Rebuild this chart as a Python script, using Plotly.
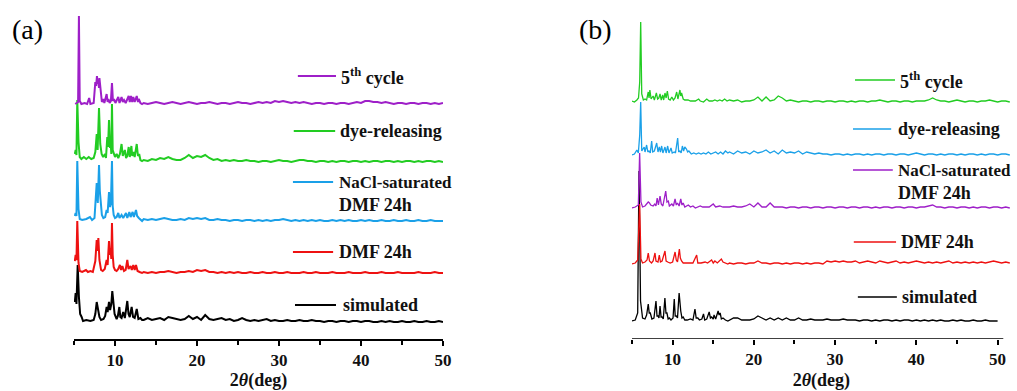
import plotly.graph_objects as go

# ---------------- Panel (a) data (2theta in deg, intensity in a.u.) ----------------
TAIL_X_A = [13.5, 14, 14.5, 15, 15.5, 16, 16.5, 17, 17.5, 18,
            18.5, 19, 19.5, 20, 20.5, 21, 21.5, 22, 22.5, 23,
            23.5, 24, 24.5, 25, 25.5, 26, 26.5, 27, 27.5, 28,
            28.5, 29, 29.5, 30, 30.5, 31, 31.5, 32, 32.5, 33,
            33.5, 34, 34.5, 35, 35.5, 36, 36.5, 37, 37.5, 38,
            38.5, 39, 39.5, 40, 40.5, 41, 41.5, 42, 42.5, 43,
            43.5, 44, 44.5, 45, 45.5, 46, 46.5, 47, 47.5, 48,
            48.5, 49, 49.5, 50]

A_CYCLE5_PEAKS = [(5.15, 0), (5.4, 1), (5.5, 2), (5.6, 88), (5.7, 3), (5.9, 0), (6.3, 1), (6.6, 0), (6.85, 6),
                  (7.0, 0), (7.4, 1), (7.6, 22), (7.7, 18), (7.8, 28), (7.9, 20), (7.95, 24), (8.05, 16),
                  (8.1, 26), (8.25, 14), (8.4, 2), (8.58, 5), (8.7, 1), (8.98, 10), (9.1, 2), (9.2, 5),
                  (9.35, 1), (9.5, 3), (9.63, 21), (9.75, 3), (9.88, 5), (10.05, 1), (10.4, 7), (10.55, 1),
                  (10.8, 7), (10.95, 2), (11.1, 4), (11.3, 1), (11.67, 8), (11.8, 2), (11.95, 8), (12.1, 2),
                  (12.23, 7), (12.4, 2), (12.65, 8), (12.8, 2), (12.9, 5), (13.1, 1), (13.3, 0)]
A_CYCLE5_TAIL = [1, 0, 1, 2, 1, 0, 1, 2, 1, 0,
                 1, 2, 1, 0, 1, 1, 2, 1, 0, 1,
                 1, 0, 1, 2, 1, 1, 0, 1, 2, 1,
                 2, 1, 3, 2, 3, 2, 1, 2, 1, 2,
                 1, 0, 1, 1, 0, 1, 1, 0, 1, 1,
                 0, 1, 2, 1, 3, 3, 2, 2, 1, 2,
                 1, 0, 1, 1, 0, 1, 1, 0, 1, 1,
                 0, 1, 0, 1]

A_DYE_PEAKS = [(5.1, 8), (5.2, 12), (5.3, 7), (5.4, 62), (5.55, 20), (5.7, 5), (5.9, 3), (6.2, 5), (6.5, 3),
               (6.8, 5), (7.1, 3), (7.4, 4), (7.6, 10), (7.77, 28), (7.88, 12), (8.05, 54), (8.2, 18),
               (8.37, 8), (8.55, 5), (8.78, 8), (8.9, 4), (9.06, 25), (9.15, 15), (9.27, 42), (9.38, 14),
               (9.47, 20), (9.55, 8), (9.63, 58), (9.72, 12), (9.8, 10), (10.0, 5), (10.2, 8), (10.4, 4),
               (10.6, 8), (10.8, 18), (10.95, 6), (11.2, 12), (11.35, 4), (11.5, 6), (11.67, 15), (11.8, 5),
               (12.0, 16), (12.1, 6), (12.25, 10), (12.4, 5), (12.65, 18), (12.8, 6), (12.95, 8), (13.1, 2),
               (13.3, 1)]
A_DYE_TAIL = [2, 1, 3, 2, 4, 3, 5, 3, 2, 2,
              4, 7, 4, 6, 5, 7, 4, 2, 3, 1,
              2, 1, 2, 1, 1, 2, 1, 1, 0, 1,
              1, 0, 1, 2, 1, 1, 0, 1, 2, 2,
              1, 1, 0, 1, 1, 0, 1, 0, 1, 1,
              0, 1, 1, 0, 1, 0, 1, 1, 0, 1,
              1, 0, 1, 0, 1, 1, 0, 1, 0, 1,
              1, 0, 1, 0]

A_NACL_PEAKS = [(5.1, 5), (5.2, 8), (5.3, 5), (5.4, 60), (5.55, 12), (5.7, 2), (6.0, 1), (6.5, 2), (6.95, 4),
                (7.2, 1), (7.5, 3), (7.65, 20), (7.77, 38), (7.9, 18), (8.05, 56), (8.15, 30), (8.25, 21),
                (8.4, 6), (8.58, 3), (8.8, 4), (8.98, 11), (9.1, 8), (9.27, 29), (9.38, 14), (9.5, 18),
                (9.63, 60), (9.72, 15), (9.84, 6), (10.0, 3), (10.2, 4), (10.4, 8), (10.55, 3), (10.8, 6),
                (11.0, 3), (11.34, 8), (11.5, 3), (11.75, 9), (11.9, 4), (12.15, 9), (12.3, 4), (12.56, 11),
                (12.7, 5), (12.9, 3), (13.1, 1), (13.3, 0)]
A_NACL_TAIL = [2, 1, 2, 1, 2, 3, 2, 1, 1, 2,
               1, 3, 2, 3, 2, 3, 1, 1, 2, 1,
               1, 0, 1, 1, 0, 1, 1, 0, 1, 0,
               1, 0, 1, 1, 2, 1, 0, 1, 0, 1,
               0, 1, 0, 1, 0, 0, 1, 0, 1, 0,
               1, 0, 0, 1, 0, 1, 0, 0, 1, 0,
               0, 1, 0, 0, 1, 0, 0, 1, 0, 0,
               1, 0, 0, 0]

A_DMF_PEAKS = [(5.1, 12), (5.2, 18), (5.3, 13), (5.4, 52), (5.55, 10), (5.7, 2), (6.0, 1), (6.46, 3), (6.7, 1),
               (7.0, 2), (7.3, 1), (7.6, 12), (7.77, 33), (7.87, 22), (7.97, 35), (8.1, 13), (8.3, 3),
               (8.5, 2), (8.75, 4), (8.98, 13), (9.1, 8), (9.27, 32), (9.37, 18), (9.45, 25), (9.55, 14),
               (9.63, 50), (9.72, 18), (9.84, 6), (10.0, 3), (10.2, 2), (10.4, 4), (10.6, 8), (10.75, 3),
               (10.9, 7), (11.1, 2), (11.3, 3), (11.5, 13), (11.65, 4), (11.9, 7), (12.05, 3), (12.23, 8),
               (12.4, 3), (12.56, 8), (12.75, 2), (13.0, 1), (13.3, 0)]
A_DMF_TAIL = [1, 0, 1, 0, 1, 1, 2, 1, 0, 1,
              1, 2, 1, 3, 2, 3, 1, 1, 0, 1,
              0, 1, 0, 1, 0, 0, 1, 0, 0, 1,
              0, 0, 1, 0, 0, 1, 0, 0, 0, 1,
              0, 0, 1, 0, 0, 0, 1, 0, 0, 0,
              1, 0, 0, 0, 1, 0, 0, 0, 1, 0,
              0, 0, 1, 0, 0, 0, 0, 1, 0, 0,
              0, 1, 0, 0]

A_SIM_PEAKS = [(5.1, 20), (5.2, 29), (5.3, 18), (5.45, 57), (5.6, 25), (5.75, 8), (5.93, 5), (6.1, 1), (6.5, 2),
               (7.0, 1), (7.4, 2), (7.6, 8), (7.77, 20), (7.87, 15), (7.97, 10), (8.1, 5), (8.3, 2), (8.6, 3),
               (8.8, 6), (8.98, 15), (9.1, 10), (9.27, 20), (9.4, 12), (9.55, 18), (9.67, 31), (9.8, 22),
               (9.95, 8), (10.2, 3), (10.35, 6), (10.53, 15), (10.65, 5), (10.8, 4), (11.0, 10), (11.2, 4),
               (11.5, 21), (11.65, 8), (11.8, 5), (12.03, 15), (12.2, 5), (12.4, 4), (12.65, 13), (12.85, 3),
               (13.1, 4), (13.3, 2)]
A_SIM_TAIL = [2, 4, 2, 3, 4, 2, 5, 4, 3, 2,
              3, 6, 3, 5, 2, 7, 3, 2, 3, 4,
              2, 3, 1, 2, 4, 2, 1, 2, 1, 2,
              3, 1, 2, 1, 1, 2, 1, 1, 2, 1,
              1, 2, 1, 1, 0, 1, 1, 0, 1, 1,
              0, 1, 1, 0, 1, 1, 0, 0, 1, 0,
              1, 0, 0, 1, 0, 0, 1, 0, 0, 1,
              0, 0, 1, 0]

# ---------------- Panel (b) data ----------------
TAIL_X_B = [17, 17.5, 18, 18.5, 19, 19.5, 20, 20.5, 21, 21.5,
            22, 22.5, 23, 23.5, 24, 24.5, 25, 25.5, 26, 26.5,
            27, 27.5, 28, 28.5, 29, 29.5, 30, 30.5, 31, 31.5,
            32, 32.5, 33, 33.5, 34, 34.5, 35, 35.5, 36, 36.5,
            37, 37.5, 38, 38.5, 39, 39.5, 40, 40.5, 41, 41.5,
            42, 42.5, 43, 43.5, 44, 44.5, 45, 45.5, 46, 46.5,
            47, 47.5, 48, 48.5, 49, 49.5, 50, 50.5, 51, 51.5]

B_CYCLE5_PEAKS = [(5.0, 1), (5.3, 0), (5.6, 2), (5.8, 4), (5.95, 20), (6.07, 80), (6.2, 8), (6.4, 2), (6.6, 3),
                  (6.8, 2), (7.0, 10), (7.1, 4), (7.2, 12), (7.35, 3), (7.6, 6), (7.75, 2), (8.0, 9), (8.15, 3),
                  (8.3, 4), (8.45, 8), (8.6, 2), (8.78, 7), (8.9, 2), (9.06, 9), (9.2, 4), (9.35, 11), (9.5, 3),
                  (9.7, 2), (9.9, 5), (10.1, 2), (10.3, 4), (10.5, 10), (10.65, 3), (10.9, 12), (11.0, 6),
                  (11.1, 9), (11.3, 3), (11.5, 2), (11.9, 2), (12.2, 1), (12.5, 1), (12.8, 1), (13.2, 3),
                  (13.4, 1), (13.8, 0), (14.2, 3), (14.5, 1), (14.9, 1), (15.2, 2), (15.5, 1), (15.8, 2),
                  (16.1, 1), (16.4, 3), (16.7, 1)]
B_CYCLE5_TAIL = [2, 1, 2, 0, 1, 1, 2, 5, 1, 5,
                 1, 2, 6, 4, 1, 2, 1, 0, 1, 1,
                 0, 1, 1, 0, 1, 1, 0, 1, 1, 0,
                 1, 0, 1, 1, 0, 1, 1, 2, 1, 0,
                 1, 1, 0, 1, 1, 0, 1, 1, 1, 2,
                 4, 2, 1, 1, 0, 1, 2, 1, 0, 1,
                 1, 0, 1, 1, 2, 1, 0, 1, 1, 0]

B_DYE_PEAKS = [(5.0, 0), (5.3, 1), (5.6, 5), (5.78, 2), (5.95, 20), (6.07, 53), (6.2, 4), (6.5, 8), (6.6, 3),
               (6.8, 10), (6.95, 3), (7.09, 4), (7.25, 2), (7.42, 14), (7.55, 3), (7.75, 4), (8.04, 12),
               (8.2, 3), (8.36, 8), (8.5, 3), (8.65, 9), (8.8, 2), (9.06, 8), (9.2, 2), (9.39, 9), (9.55, 2),
               (9.8, 7), (9.95, 2), (10.2, 3), (10.35, 2), (10.62, 17), (10.75, 3), (10.9, 4), (11.05, 2),
               (11.2, 9), (11.35, 4), (11.5, 8), (11.7, 6), (11.85, 3), (12.0, 4), (12.3, 1), (12.6, 2),
               (12.9, 1), (13.2, 2), (13.5, 1), (13.8, 2), (14.1, 1), (14.4, 3), (14.7, 1), (15.0, 2),
               (15.3, 3), (15.6, 1), (15.9, 3), (16.2, 1), (16.5, 4), (16.8, 2)]
B_DYE_TAIL = [3, 1, 4, 2, 3, 1, 4, 2, 3, 5,
              2, 4, 1, 5, 2, 3, 2, 4, 1, 3,
              2, 1, 2, 1, 1, 0, 1, 1, 0, 1,
              0, 1, 1, 0, 1, 0, 1, 1, 0, 1,
              1, 0, 1, 1, 0, 1, 2, 1, 0, 1,
              1, 0, 1, 0, 1, 1, 0, 1, 0, 1,
              1, 0, 1, 0, 1, 1, 0, 1, 1, 0]

B_NACL_PEAKS = [(5.0, 0), (5.4, 1), (5.78, 3), (5.94, 55), (6.1, 6), (6.3, 1), (6.6, 2), (7.0, 6), (7.15, 5),
                (7.3, 3), (7.6, 2), (7.8, 4), (7.95, 2), (8.1, 10), (8.25, 3), (8.45, 12), (8.6, 4), (8.8, 2),
                (9.15, 17), (9.3, 6), (9.47, 7), (9.6, 2), (9.9, 4), (10.1, 2), (10.3, 9), (10.45, 3),
                (10.6, 5), (10.8, 2), (11.0, 9), (11.15, 3), (11.3, 5), (11.5, 1), (11.93, 3), (12.2, 1),
                (12.5, 2), (12.8, 0), (13.4, 2), (13.7, 1), (14.0, 1), (14.5, 1), (15.0, 4), (15.3, 1),
                (15.8, 2), (16.2, 1), (16.6, 1)]
B_NACL_TAIL = [1, 2, 1, 1, 2, 4, 1, 5, 1, 1,
               5, 1, 1, 1, 0, 1, 1, 0, 1, 1,
               0, 1, 1, 0, 1, 1, 0, 1, 1, 0,
               1, 1, 0, 1, 1, 0, 1, 0, 1, 1,
               0, 1, 1, 0, 1, 1, 0, 1, 1, 2,
               3, 1, 1, 0, 1, 1, 0, 1, 1, 0,
               1, 0, 1, 1, 0, 1, 1, 0, 1, 0]

B_DMF_PEAKS = [(5.0, 0), (5.4, 1), (5.7, 4), (5.94, 60), (6.1, 5), (6.3, 1), (6.6, 2), (6.85, 4), (7.0, 11),
               (7.15, 3), (7.4, 1), (7.6, 3), (7.83, 11), (7.95, 3), (8.2, 2), (8.36, 9), (8.5, 2), (8.7, 3),
               (9.06, 13), (9.2, 3), (9.4, 2), (9.7, 1), (10.0, 2), (10.3, 12), (10.45, 4), (10.6, 2),
               (10.83, 15), (10.95, 6), (11.1, 3), (11.3, 1), (11.7, 1), (12.2, 1), (12.5, 1), (12.96, 9),
               (13.1, 1), (13.5, 1), (14.0, 2), (14.3, 1), (14.8, 4), (15.0, 1), (15.2, 3), (15.5, 1),
               (16.0, 5), (16.2, 2), (16.5, 1), (16.8, 0)]
B_DMF_TAIL = [1, 0, 1, 1, 0, 1, 1, 3, 1, 1,
              0, 1, 1, 0, 1, 0, 1, 1, 0, 1,
              0, 1, 1, 0, 3, 2, 3, 2, 3, 2,
              2, 3, 1, 2, 3, 2, 1, 3, 2, 1,
              2, 3, 1, 2, 1, 2, 3, 2, 1, 2,
              1, 2, 1, 2, 3, 1, 2, 1, 2, 1,
              2, 1, 2, 1, 2, 3, 2, 1, 2, 1]

B_SIM_PEAKS = [(5.0, 0), (5.4, 1), (5.7, 8), (5.86, 150), (6.05, 20), (6.3, 3), (6.6, 2), (6.8, 6), (7.0, 17),
               (7.12, 8), (7.25, 8), (7.45, 2), (7.7, 3), (7.95, 20), (8.08, 5), (8.2, 5), (8.32, 3),
               (8.45, 15), (8.58, 4), (8.7, 4), (8.85, 2), (9.05, 23), (9.18, 8), (9.3, 8), (9.45, 2),
               (9.6, 3), (9.8, 1), (10.05, 3), (10.2, 22), (10.32, 5), (10.45, 5), (10.6, 3), (10.8, 28),
               (10.92, 10), (11.0, 10), (11.15, 3), (11.3, 4), (11.5, 1), (11.8, 1), (12.2, 2), (12.5, 1),
               (12.75, 12), (12.9, 3), (13.1, 3), (13.3, 1), (13.6, 2), (13.8, 7), (13.95, 1), (14.2, 2),
               (14.5, 9), (14.65, 3), (14.8, 4), (15.0, 2), (15.1, 6), (15.3, 2), (15.6, 10), (15.72, 6),
               (15.85, 8), (16.0, 2), (16.2, 3), (16.5, 1), (16.8, 0)]
B_SIM_TAIL = [1, 3, 3, 1, 1, 1, 2, 5, 3, 1,
              3, 1, 3, 1, 3, 1, 1, 3, 1, 1,
              2, 1, 1, 1, 2, 1, 1, 1, 2, 1,
              1, 1, 0, 1, 1, 0, 1, 0, 1, 1,
              0, 1, 0, 1, 1, 0, 1, 0, 1, 0,
              1, 0, 1, 0, 0, 1, 0, 1, 0, 0,
              1, 0, 0, 1, 0, 0, 0]

# stacking offsets (bottom to top order of drawing)
NAMES_A = ["simulated", "DMF 24h", "NaCl-saturated DMF 24h", "dye-releasing", "5th cycle"]
OFFSETS_A = [17, 66, 118, 177, 235]
NAMES_B = ["simulated", "DMF 24h", "NaCl-saturated DMF 24h", "dye-releasing", "5th cycle"]
OFFSETS_B = [18, 75, 131, 184, 237]

COLORS_A = ["#000000", "#EE1111", "#1AA0E8", "#22CC22", "#9E1FC8"]
COLORS_B = ["#000000", "#EE1111", "#9E1FC8", "#1AA0E8", "#22CC22"]

SERIES_A = [(A_SIM_PEAKS, A_SIM_TAIL), (A_DMF_PEAKS, A_DMF_TAIL), (A_NACL_PEAKS, A_NACL_TAIL),
            (A_DYE_PEAKS, A_DYE_TAIL), (A_CYCLE5_PEAKS, A_CYCLE5_TAIL)]
SERIES_B = [(B_SIM_PEAKS, B_SIM_TAIL), (B_DMF_PEAKS, B_DMF_TAIL), (B_NACL_PEAKS, B_NACL_TAIL),
            (B_DYE_PEAKS, B_DYE_TAIL), (B_CYCLE5_PEAKS, B_CYCLE5_TAIL)]

# label text (top to bottom)
LABELS_A = ["5<sup>th</sup> cycle", "dye-releasing", "NaCl-saturated|DMF 24h", "DMF 24h", "simulated"]
LABEL_COLORS_A = ["#9E1FC8", "#22CC22", "#1AA0E8", "#EE1111", "#000000"]
LABEL_POS_A = [(32.3, 36.95, 37.3, 263), (31.8, 36.85, 37.2, 208), (31.7, 36.6, 37.1, 157),
               (31.7, 36.6, 37.1, 87), (31.95, 36.95, 37.55, 34)]
LABELS_B = ["5<sup>th</sup> cycle", "dye-releasing", "NaCl-saturated|DMF 24h", "DMF 24h", "simulated"]
LABEL_COLORS_B = ["#22CC22", "#1AA0E8", "#9E1FC8", "#EE1111", "#000000"]
LABEL_POS_B = [(32.45, 37.37, 37.75, 259), (32.2, 36.9, 37.5, 210), (32.2, 37.1, 37.5, 169),
               (32.3, 37.5, 37.85, 97), (32.8, 37.6, 37.95, 42)]

W, H = 1017, 391
AX_PX = 339  # pixel row of x-axis line
FONT = "Liberation Serif"

fig = go.Figure()


def add_panel(series, offsets, colors, names, tail_x, xa, ya, width):
    for (peaks, tail), off, col, nm in zip(series, offsets, colors, names):
        xs = [p[0] for p in peaks] + tail_x[:len(tail)]
        ys = [p[1] + off for p in peaks] + [v + off for v in tail]
        fig.add_trace(go.Scatter(x=xs, y=ys, mode="lines", name=nm,
                                 line=dict(color=col, width=width),
                                 xaxis=xa, yaxis=ya, showlegend=False, hoverinfo="skip"))


add_panel(SERIES_A, OFFSETS_A, COLORS_A, NAMES_A, TAIL_X_A, "x", "y", 2.0)
add_panel(SERIES_B, OFFSETS_B, COLORS_B, NAMES_B, TAIL_X_B, "x2", "y2", 1.3)

shapes = []
annotations = []


def add_labels(labels, colors, pos, xref, yref, lw):
    for lab, col, (x0, x1, xt, yv) in zip(labels, colors, pos):
        shapes.append(dict(type="line", xref=xref, yref=yref, x0=x0, x1=x1, y0=yv, y1=yv,
                           line=dict(color=col, width=lw)))
        for k, part in enumerate(lab.split("|")):
            size = 17 if part.startswith("NaCl") else 18
            annotations.append(dict(xref=xref, yref=yref, x=xt, y=yv - 23 * k, text="<b>" + part + "</b>",
                                    showarrow=False, xanchor="left", yanchor="middle",
                                    font=dict(family=FONT, size=size, color="#111111")))


add_labels(LABELS_A, LABEL_COLORS_A, LABEL_POS_A, "x", "y", 2.0)
add_labels(LABELS_B, LABEL_COLORS_B, LABEL_POS_B, "x2", "y2", 1.3)

# x-axis line of panel (b) (ends at ~50.7 while data run slightly beyond)
shapes.append(dict(type="line", xref="x2", yref="y2", x0=5, x1=50.7, y0=0, y1=0,
                   line=dict(color="black", width=1.5)))

annotations.append(dict(xref="paper", yref="paper", x=10 / W, y=1 - 30 / H, text="(a)", showarrow=False,
                        xanchor="left", yanchor="middle", font=dict(family=FONT, size=28, color="black")))
annotations.append(dict(xref="paper", yref="paper", x=577 / W, y=1 - 30 / H, text="(b)", showarrow=False,
                        xanchor="left", yanchor="middle", font=dict(family=FONT, size=28, color="black")))

axis_common = dict(showgrid=False, zeroline=False, ticks="outside", ticklen=5, tickwidth=1.5,
                   tickcolor="black", dtick=10, tick0=0,
                   minor=dict(dtick=5, ticks="outside", ticklen=4, tickwidth=1.5, tickcolor="black"),
                   tickfont=dict(family=FONT, size=17, color="#111111", weight="bold"),
                   title=dict(text="<b>2<i>θ</i>(deg)</b>", font=dict(family=FONT, size=18, color="#111111"),
                              standoff=5),
                   automargin=False, fixedrange=True)

ydom = [(H - AX_PX) / H, 1.0]

fig.update_layout(
    width=W, height=H,
    margin=dict(l=0, r=0, t=0, b=0),
    paper_bgcolor="white", plot_bgcolor="white",
    xaxis=dict(domain=[74 / W, 443 / W], range=[5, 50], anchor="y", showline=True, linecolor="black",
               linewidth=1.5, **axis_common),
    yaxis=dict(domain=ydom, range=[0, AX_PX], visible=False, fixedrange=True),
    xaxis2=dict(domain=[632 / W, 1010.6 / W], range=[5, 51.6], anchor="y2", showline=False, **axis_common),
    yaxis2=dict(domain=ydom, range=[0, AX_PX], visible=False, fixedrange=True),
    shapes=shapes,
    annotations=annotations,
    showlegend=False,
)

fig.write_html("out.html", config={"displayModeBar": False},
               post_script="document.body.style.margin='0';document.body.style.overflow='hidden';")
